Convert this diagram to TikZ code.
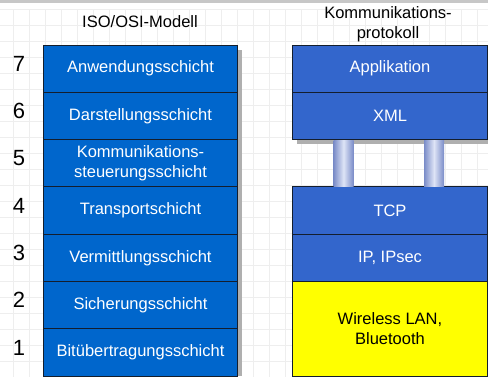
\documentclass[tikz,border=0pt]{standalone}
\usepackage{fontspec}
\setmainfont{Liberation Sans}
\usetikzlibrary{positioning}
\definecolor{osiblue}{RGB}{0,102,204}
\definecolor{protblue}{RGB}{51,102,204}
\definecolor{wlanyellow}{RGB}{255,255,0}
\definecolor{edgecol}{RGB}{20,30,45}
\definecolor{pipeedge}{RGB}{122,140,200}
\definecolor{pipemid}{RGB}{222,228,246}
\definecolor{gridcol}{RGB}{238,238,238}
\definecolor{shadowcol}{RGB}{175,175,175}

\begin{document}
\begin{tikzpicture}[x=1pt, y=1pt, node distance=0pt,
    every node/.style={font=\fontsize{16.5}{19.5}\selectfont, inner sep=0pt, outer sep=0pt},
    osilayer/.style={draw=edgecol, line width=0.9pt, fill=osiblue, text=white,
      minimum width=194pt, minimum height=47.3pt, align=center},
    protlayer/.style={osilayer, fill=protblue, minimum width=195pt},
    num/.style={font=\fontsize{22}{24}\selectfont},
    pipe/.style={left color=pipeedge, right color=pipeedge, middle color=pipemid}]
  \useasboundingbox (0,0) rectangle (488,377);
  % background
  \fill[white] (0,0) rectangle (488,377);
  \draw[gridcol, line width=0.8pt, xstep=16, ystep=16, shift={(13,0)}] (-13,0) grid (475,368);
  \fill[black!22] (0,374) rectangle (488,377);

  % titles
  \node[align=center] (osititle) at (140,355) {ISO/OSI-Modell};
  \node[align=center] (prottitle) at (388,353) {Kommunikations-\\protokoll};

  % shadows
  \fill[shadowcol] (237,1) rectangle (242,327);
  \fill[shadowcol] (297,233) rectangle (488,238.5);

  % ISO/OSI layers
  \node[osilayer, anchor=north west] (l7) at (43.5,332) {Anwendungsschicht};
  \node[osilayer, below=of l7] (l6) {Darstellungsschicht};
  \node[osilayer, below=of l6] (l5) {Kommunikations-\\steuerungsschicht};
  \node[osilayer, below=of l5] (l4) {Transportschicht};
  \node[osilayer, below=of l4] (l3) {Vermittlungsschicht};
  \node[osilayer, below=of l3] (l2) {Sicherungsschicht};
  \node[osilayer, below=of l2] (l1) {Bitübertragungsschicht};

  % layer numbers
  \node[num] (n7) at ([xshift=-24.5pt,yshift=5pt]l7.west) {7};
  \node[num] (n6) at ([xshift=-24.5pt,yshift=5pt]l6.west) {6};
  \node[num] (n5) at ([xshift=-24.5pt,yshift=5pt]l5.west) {5};
  \node[num] (n4) at ([xshift=-24.5pt,yshift=5pt]l4.west) {4};
  \node[num] (n3) at ([xshift=-24.5pt,yshift=5pt]l3.west) {3};
  \node[num] (n2) at ([xshift=-24.5pt,yshift=5pt]l2.west) {2};
  \node[num] (n1) at ([xshift=-24.5pt,yshift=5pt]l1.west) {1};

  % protocol stack
  \node[protlayer, anchor=north west] (app) at (292.5,332) {Applikation};
  \node[protlayer, below=of app] (xml) {XML};
  \node[protlayer, below=47.3pt of xml] (tcp) {TCP};
  \node[protlayer, below=of tcp] (ip) {IP, IPsec};
  \node[protlayer, below=of ip, fill=wlanyellow, text=black,
        minimum height=94.6pt] (wlan) {Wireless LAN,\\Bluetooth};

  % pipes between XML and TCP
  \shade[pipe] ([xshift=41pt,yshift=-0.45pt]xml.south west) rectangle ([xshift=61pt,yshift=0.45pt]tcp.north west);
  \shade[pipe] ([xshift=131.5pt,yshift=-0.45pt]xml.south west) rectangle ([xshift=151.5pt,yshift=0.45pt]tcp.north west);
\end{tikzpicture}
\end{document}
